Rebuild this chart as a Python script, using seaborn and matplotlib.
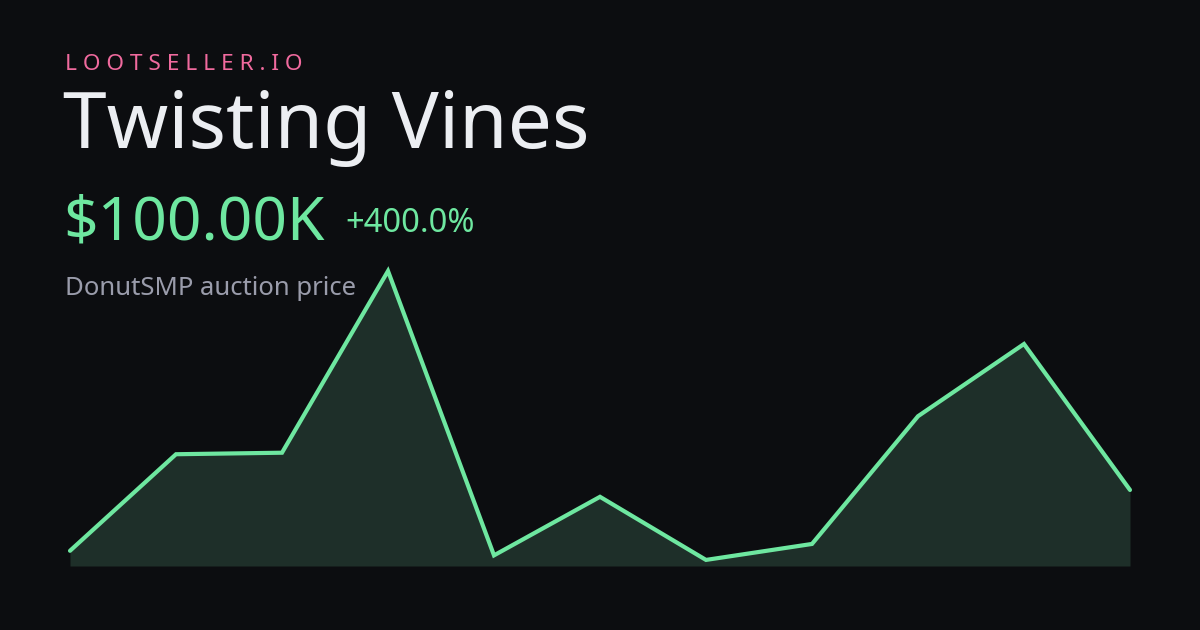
import matplotlib
matplotlib.use("Agg")
import matplotlib.pyplot as plt
import seaborn as sns
import pandas as pd

periods = list(range(11))
prices_k = [20, 147, 149, 388, 14, 91, 8, 29, 197, 292, 100]

sns.set_theme(style="dark")
plt.rcParams['font.family'] = ['Noto Sans', 'DejaVu Sans']

BG = "#0c0d10"
LINE = "#6ee7a0"
FILL = "#1e2f29"

fig = plt.figure(figsize=(12, 6.3), dpi=100, facecolor=BG)
ax = fig.add_axes([70/1200, (630-566)/630, 1060/1200, 295/630])
ax.set_facecolor(BG)
df = pd.DataFrame({"p": periods, "v": prices_k})
ax.fill_between(df["p"], df["v"], 0, color=FILL, lw=0)
sns.lineplot(data=df, x="p", y="v", ax=ax, color=LINE, lw=3, solid_joinstyle="miter")
for l in ax.lines:
    l.set_clip_on(False)
ax.set_xlim(0, 10)
ax.set_ylim(0, 388)
ax.axis("off")

fig.text(65/1200, 1-65/630, "L O O T S E L L E R . I O", color="#f06a9e", fontsize=16.3, va="center")
fig.text(63/1200, 1-128/630, "Twisting Vines", color="#eceef2", fontsize=56.5, va="center")
fig.text(63/1200, 1-224/630, "$100.00K", color=LINE, fontsize=43.5, va="center")
fig.text(345/1200, 1-223/630, "+400.0%", color=LINE, fontsize=23.5, va="center")
fig.text(65/1200, 1-289/630, "DonutSMP auction price", color="#9a9cab", fontsize=18.5, va="center")

fig.savefig("out.png", facecolor=BG)
